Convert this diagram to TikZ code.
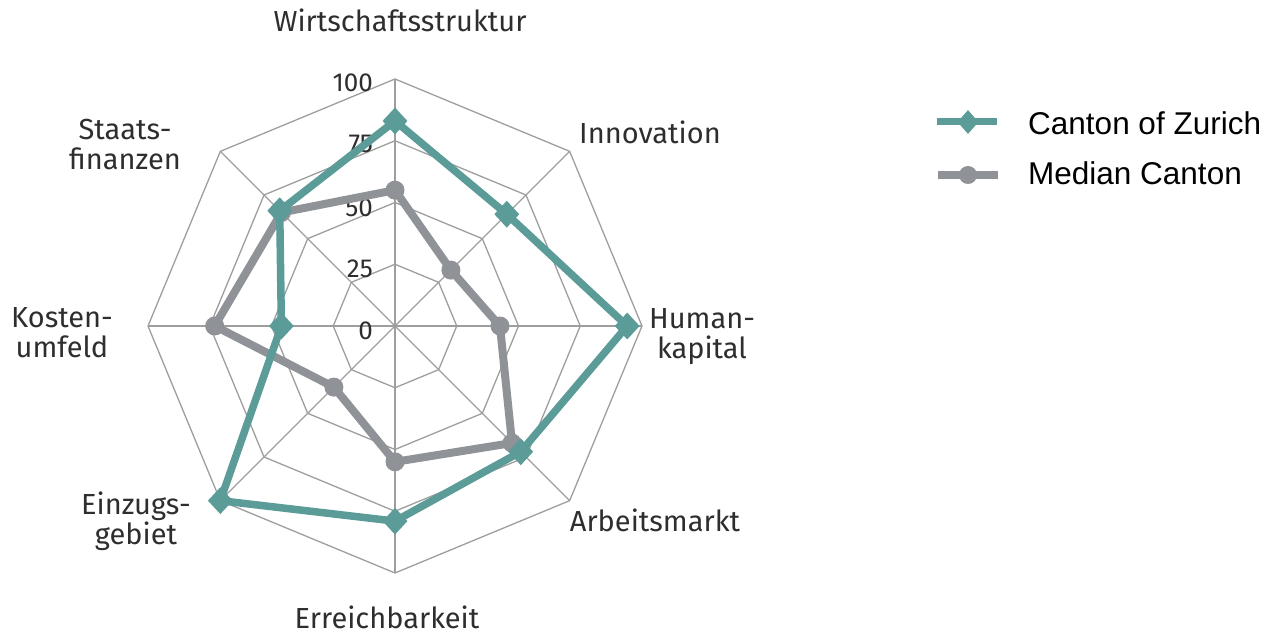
\documentclass[tikz,border=0pt]{standalone}
\usepackage{fontspec}
\setmainfont{Fira Sans}
\newfontfamily\legfont{Liberation Sans}
\usetikzlibrary{shapes.geometric}
\definecolor{teal1}{HTML}{5B9B98}
\definecolor{gray1}{HTML}{8F9296}
\definecolor{gridc}{HTML}{9E9E9E}
\definecolor{txt}{HTML}{2E2E2E}
\begin{document}
\begin{tikzpicture}[x=1pt,y=1pt,
  gridline/.style={draw=gridc,line width=1.3pt},
  zline/.style={draw=teal1,line width=7.5pt,line join=round},
  mline/.style={draw=gray1,line width=8pt,line join=round},
  zmark/.style={diamond,fill=teal1,inner sep=0pt,minimum width=25pt,minimum height=27pt},
  mmark/.style={circle,fill=gray1,inner sep=0pt,minimum size=19pt},
  axlabel/.style={font=\fontsize{29}{30}\selectfont,text=txt,align=center,inner sep=0pt,anchor=base},
  ticklabel/.style={font=\fontsize{26}{26}\selectfont,text=txt,inner sep=0pt,anchor=base east},
  legtext/.style={font=\legfont\fontsize{31.5}{32}\selectfont,text=black,anchor=base west,inner sep=0pt},
  legz/.style={diamond,fill=teal1,inner sep=0pt,minimum width=21pt,minimum height=24pt},
  legm/.style={circle,fill=gray1,inner sep=0pt,minimum size=18pt}
]
\useasboundingbox (0,0) rectangle (1270,635);
\begin{scope}[shift={(395,309)}]
  \coordinate (c) at (0,0);
  % grid rings
  \foreach \f in {61.75,123.5,185.25,247}{
    \draw[gridline] (0:\f) \foreach \a in {45,90,...,315}{ -- (\a:\f)} -- cycle;
  }
  % spokes
  \foreach \a in {0,45,...,315}{
    \coordinate (v\a) at (\a:247);
    \draw[gridline] (c) -- (v\a);
  }
  % tick labels
  \node[ticklabel] (t100) at (-22,234) {100};
  \node[ticklabel] (t75) at (-22,173) {75};
  \node[ticklabel] (t50) at (-22,109) {50};
  \node[ticklabel] (t25) at (-22,48) {25};
  \node[ticklabel] (t0) at (-22,-14) {0};
  % series coordinates
  \foreach \n/\a/\v in {1/90/83,2/45/64,3/0/94,4/315/72,5/270/79,6/225/100,7/180/46,8/135/66}{
    \coordinate (z\n) at (\a:{\v*2.47});
  }
  \foreach \n/\a/\v in {1/90/55,2/45/32,3/0/42.5,4/315/67,5/270/55,6/225/35,7/180/73,8/135/65}{
    \coordinate (m\n) at (\a:{\v*2.47});
  }
  % median canton
  \draw[mline] (m1) -- (m2) -- (m3) -- (m4) -- (m5) -- (m6) -- (m7) -- (m8) -- cycle;
  \foreach \n in {1,...,8}{ \node[mmark] (mm\n) at (m\n) {}; }
  % canton of zurich
  \draw[zline] (z1) -- (z2) -- (z3) -- (z4) -- (z5) -- (z6) -- (z7) -- (z8) -- cycle;
  \foreach \n in {1,...,8}{ \node[zmark] (zm\n) at (z\n) {}; }
  % axis labels
  \node[axlabel] (lw) at (5,294) {Wirtschaftsstruktur};
  \node[axlabel] (li) at (255,182) {Innovation};
  \node[axlabel] (lh) at (307,-33) {Human-\\kapital};
  \node[axlabel] (la) at (260,-206) {Arbeitsmarkt};
  \node[axlabel] (le) at (-8,-303) {Erreichbarkeit};
  \node[axlabel] (lg) at (-259,-219) {Einzugs-\\gebiet};
  \node[axlabel] (lk) at (-333,-32) {Kosten-\\umfeld};
  \node[axlabel] (ls) at (-270,156) {Staats-\\finanzen};
\end{scope}
% legend
\coordinate (za) at (937,513);
\coordinate (zb) at (997,513);
\coordinate (ma) at (938,460);
\coordinate (mb) at (998,460);
\draw[draw=teal1,line width=7pt] (za) -- (zb);
\node[legz] (lzm) at (968,513) {};
\draw[draw=gray1,line width=8pt] (ma) -- (mb);
\node[legm] (lmm) at (968,460) {};
\node[legtext] (lzt) at (1028,500) {Canton of Zurich};
\node[legtext] (lmt) at (1028,450) {Median Canton};
\end{tikzpicture}
\end{document}
